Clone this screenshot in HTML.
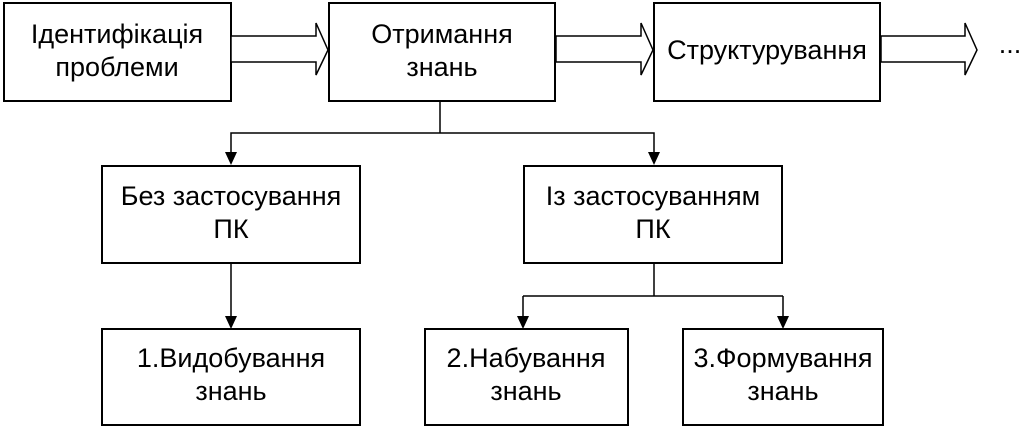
<!DOCTYPE html><html><head><style>body{margin:0;background:#fff}</style></head><body>
<svg width="1024" height="429" xmlns="http://www.w3.org/2000/svg" font-family="Liberation Sans, sans-serif" font-size="27" text-anchor="middle">
<g fill="#fff" stroke="#000" stroke-width="2">
<rect x="4" y="3" width="227" height="98"/>
<rect x="329" y="3" width="226" height="98"/>
<rect x="654" y="3" width="226" height="98"/>
<rect x="102" y="166" width="258" height="97"/>
<rect x="524" y="166" width="258" height="97"/>
<rect x="102" y="329" width="258" height="96"/>
<rect x="425" y="329" width="203" height="96"/>
<rect x="683" y="329" width="200" height="96"/>
<polygon points="231,36 316,36 316,23 328,50 316,75 316,62 231,62" stroke-width="1.5"/>
<polygon points="556,36 641,36 641,23 653,50 641,75 641,62 556,62" stroke-width="1.5"/>
<polygon points="881,36 965,36 965,23 977,50 965,75 965,62 881,62" stroke-width="1.5"/>
</g>
<g fill="none" stroke="#000" stroke-width="1.5">
<path d="M440 101V133M231 153V133H654V153M231 263V318M654 263V296M523 296H783M523 296V318M783 296V318"/>
</g>
<g fill="#000">
<polygon points="225,152 237,152 231,165"/><polygon points="648,152 660,152 654,165"/>
<polygon points="225,316 237,316 231,329"/><polygon points="517,316 529,316 523,329"/><polygon points="777,316 789,316 783,329"/>
</g>
<g fill="#000">
<text x="117" y="43">Ідентифікація</text><text x="117" y="76">проблеми</text>
<text x="442" y="43">Отримання</text><text x="442" y="76">знань</text>
<text x="767" y="59">Структурування</text>
<text x="1010" y="53">...</text>
<text x="231" y="205">Без застосування</text><text x="231" y="238">ПК</text>
<text x="653" y="205">Із застосуванням</text><text x="653" y="238">ПК</text>
<text x="231" y="367">1.Видобування</text><text x="231" y="400">знань</text>
<text x="526" y="367">2.Набування</text><text x="526" y="400">знань</text>
<text x="783" y="367">3.Формування</text><text x="783" y="400">знань</text>
</g>
</svg></body></html>
